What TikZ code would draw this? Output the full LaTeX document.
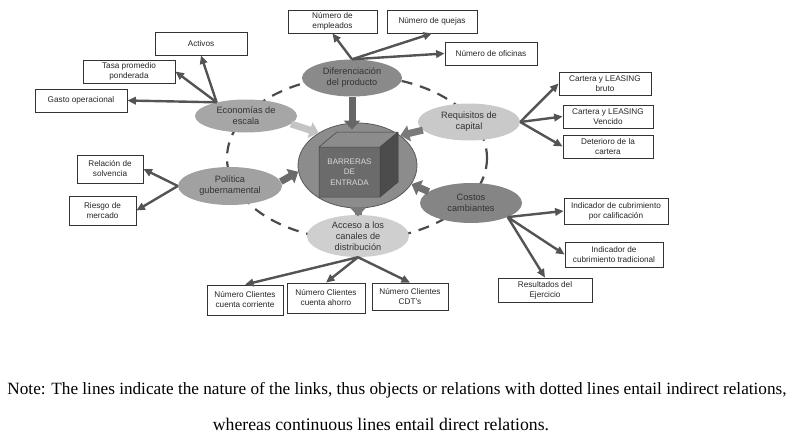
\documentclass[tikz,border=0pt]{standalone}
\usepackage{fontspec}
\setmainfont{Liberation Sans}
\newfontfamily\notefont{Liberation Serif}
\usepackage{tikz}
\usetikzlibrary{shapes.geometric,arrows.meta}

\definecolor{linkgray}{HTML}{545454}
\definecolor{dashgray}{HTML}{4A4A4A}

\begin{document}
\begin{tikzpicture}[x=1pt, y=-1pt,
    box/.style={draw=black!80, fill=white, line width=0.8pt, inner sep=0pt, align=center,
      font=\fontsize{8.2}{10}\selectfont, text=black!85},
    oval/.style={ellipse, inner sep=0pt, align=center, font=\fontsize{9.2}{11}\selectfont, text=black!80},
    link/.style={draw=linkgray, line width=2.4pt, -{Triangle[length=8.5pt,width=7.5pt]}},
    push/.style={line width=7pt, -{Triangle[length=9pt,width=16pt]}}]
    \useasboundingbox (0,0) rectangle (792,436);
    % dashed ring
    \draw[dashgray, line width=2.2pt, dash pattern=on 11pt off 8pt] (357,158) ellipse [x radius=130, y radius=82];
    % centre
    \node[ellipse, draw=black!65, line width=0.8pt, fill=black!45, minimum width=119pt, minimum height=85pt] (B) at (357.5,165.5) {};
    \fill[black!58] (319,147) rectangle (380,197);
    \fill[black!45] (319,147) -- (337,132) -- (398,132) -- (380,147) -- cycle;
    \fill[black!70] (380,147) -- (398,132) -- (398,182) -- (380,197) -- cycle;
    \draw[black!75, line width=0.5pt] (319,147) rectangle (380,197) (319,147) -- (337,132) -- (398,132) -- (380,147) (398,132) -- (398,182) -- (380,197);
    \node[align=center, font=\fontsize{8}{10.5}\selectfont, text=black!15] (T) at (349.5,172) {BARRERAS\\DE\\ENTRADA};
    % satellites
    \node[oval, fill=black!46, minimum width=100pt, minimum height=37pt] (D) at (352,78) {Diferenciación\\del producto};
    \node[oval, fill=black!35, minimum width=102pt, minimum height=33pt] (E) at (246,116) {Economías de\\escala};
    \node[oval, fill=black!37, minimum width=104pt, minimum height=38pt] (P) at (230,186) {Política\\gubernamental};
    \node[oval, fill=black!19, minimum width=102pt, minimum height=42pt] (A) at (358,236) {Acceso a los\\canales de\\distribución};
    \node[oval, fill=black!21, minimum width=102pt, minimum height=37pt] (R) at (469,122) {Requisitos de\\capital};
    \node[oval, fill=black!48, minimum width=102pt, minimum height=40pt] (C) at (471,203) {Costos\\cambiantes};
    % arrows into the centre
    \draw[push, black!60] (D.south) -- ([yshift=-7pt]D.south |- B.north);
    \draw[push, black!23] (E.-10) -- (B.140);
    \draw[push, black!58] (P.5) -- (B.186);
    \draw[push, black!52] (A.north) -- ([yshift=-8pt]A.north |- B.south);
    \draw[push, black!52] (R.190) -- (B.35);
    \draw[push, black!56] (C.165) -- (B.-19);
    % boxes
    \node[box, minimum width=89pt, minimum height=23pt] (Em) at (332.5,21.5) {Número de\\empleados};
    \node[box, minimum width=90pt, minimum height=23pt] (Qu) at (432,21.5) {Número de quejas};
    \node[box, minimum width=92pt, minimum height=23pt] (Of) at (491,53.5) {Número de oficinas};
    \node[box, minimum width=92pt, minimum height=23pt] (Ac) at (201,43.5) {Activos};
    \node[box, minimum width=92pt, minimum height=23pt] (Ta) at (129,71.5) {Tasa promedio\\ponderada};
    \node[box, minimum width=92pt, minimum height=23pt] (Ga) at (81,100.5) {Gasto operacional};
    \node[box, minimum width=66pt, minimum height=28pt] (Re) at (110,169) {Relación de\\solvencia};
    \node[box, minimum width=67pt, minimum height=29pt] (Ri) at (102.5,210.5) {Riesgo de\\mercado};
    \node[box, minimum width=92pt, minimum height=23pt] (Br) at (605,83.5) {Cartera y LEASING\\bruto};
    \node[box, minimum width=90pt, minimum height=23pt] (Ve) at (608,116.5) {Cartera y LEASING\\Vencido};
    \node[box, minimum width=90pt, minimum height=23pt] (De) at (608,146.5) {Deterioro de la\\cartera};
    \node[box, minimum width=104pt, minimum height=26pt] (Ic) at (616,211) {Indicador de cubrimiento\\por calificación};
    \node[box, minimum width=98pt, minimum height=25pt] (It) at (614,254.5) {Indicador de\\cubrimiento tradicional};
    \node[box, minimum width=94pt, minimum height=24pt] (Rs) at (545,290) {Resultados del\\Ejercicio};
    \node[box, minimum width=76pt, minimum height=30pt] (N1) at (245,300) {Número Clientes\\cuenta corriente};
    \node[box, minimum width=78pt, minimum height=30pt] (N2) at (326,298) {Número Clientes\\cuenta ahorro};
    \node[box, minimum width=76pt, minimum height=27pt] (N3) at (410,296.5) {Número Clientes\\CDT's};
    % links
    \draw[link] (D.north) -- (Em.south);
    \draw[link] (D.north) -- (Qu.south);
    \draw[link] (D.north) -- (Of.west);
    \draw[link] (E.155) -- (Ac.south);
    \draw[link] (E.155) -- (Ta.east);
    \draw[link] (E.155) -- (Ga.east);
    \draw[link] (P.west) -- (Re.east);
    \draw[link] (P.west) -- (Ri.east);
    \draw[link] (R.east) -- (Br.west);
    \draw[link] (R.east) -- (Ve.west);
    \draw[link] (R.east) -- (De.west);
    \draw[link] (C.-21) -- (Ic.west);
    \draw[link] (C.-21) -- (It.west);
    \draw[link] (C.-21) -- (Rs.north);
    \draw[link] (A.south) -- (N1.north);
    \draw[link] (A.south) -- (N2.north);
    \draw[link] (A.south) -- (N3.north);
    % note
    \node[font=\notefont\fontsize{17.2}{21}\selectfont] (N) at (397,390) {Note: The lines indicate the nature of the links, thus objects or relations with dotted lines entail indirect relations,};
    \node[font=\notefont\fontsize{17.7}{21}\selectfont] (M) at (381,424) {whereas continuous lines entail direct relations.};
\end{tikzpicture}
\end{document}
